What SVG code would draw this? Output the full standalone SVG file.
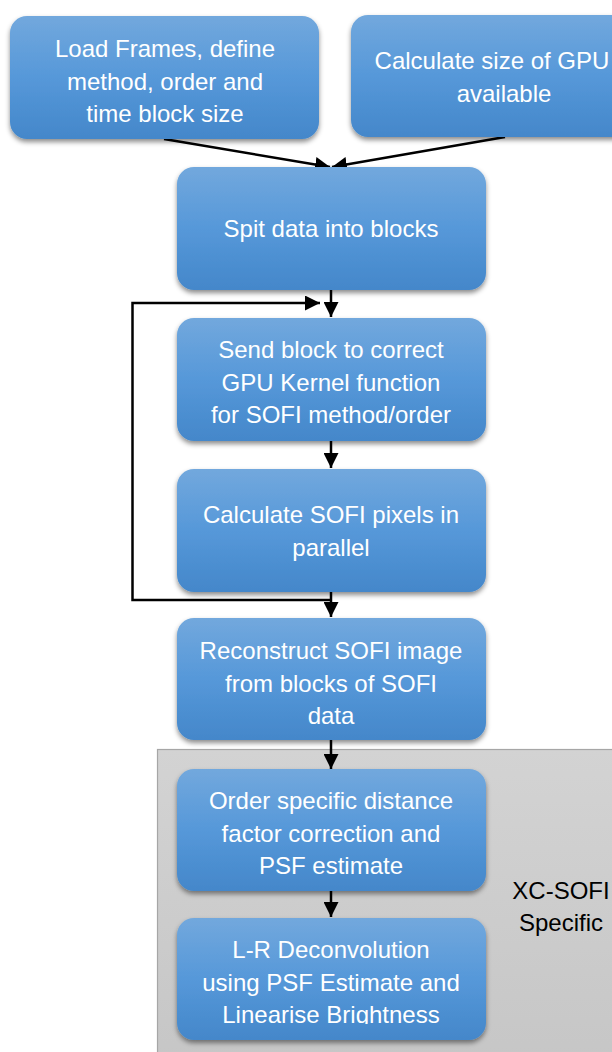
<svg xmlns="http://www.w3.org/2000/svg" width="612" height="1052" viewBox="0 0 612 1052">
<defs>
<linearGradient id="boxg" x1="0" y1="0" x2="0" y2="1">
<stop offset="0" stop-color="#72a8dd"/>
<stop offset="0.5" stop-color="#5698d9"/>
<stop offset="1" stop-color="#4487ca"/>
</linearGradient>
<linearGradient id="grayg" x1="0" y1="0" x2="0" y2="1">
<stop offset="0" stop-color="#d3d3d3"/>
<stop offset="1" stop-color="#c6c6c6"/>
</linearGradient>
<filter id="shadow" x="-10%" y="-10%" width="120%" height="130%">
<feDropShadow dx="0" dy="3" stdDeviation="2.5" flood-color="#000" flood-opacity="0.45"/>
</filter>
<marker id="arrow" markerUnits="userSpaceOnUse" markerWidth="16" markerHeight="15" refX="15" refY="7.5" orient="auto">
<path d="M0,0 L15,7.5 L0,15 z" fill="#000"/>
</marker>
<clipPath id="clip8">
<rect x="177" y="918" width="310" height="106"/>
</clipPath>
</defs>
<style>
.box{fill:url(#boxg);filter:url(#shadow);}
.t{font-family:"Liberation Sans",Arial,sans-serif;font-size:24px;fill:#ffffff;text-anchor:middle;}
.lbl{font-family:"Liberation Sans",Arial,sans-serif;font-size:24px;fill:#000000;text-anchor:middle;}
.conn{fill:none;stroke:#000;stroke-width:2.5;marker-end:url(#arrow);}
</style>
<rect width="612" height="1052" fill="#ffffff"/>

<g id="xcsofi-region">
<rect x="157.5" y="749.5" width="470" height="320" fill="url(#grayg)" stroke="#a6a6a6" stroke-width="1.2"/>
<text class="lbl" x="561" y="899">XC-SOFI</text>
<text class="lbl" x="561" y="931">Specific</text>
</g>

<g id="connectors">
<path class="conn" d="M164,139 L330,167"/>
<path class="conn" d="M505,137 L332,167"/>
<path class="conn" d="M331,290 L331,317"/>
<path class="conn" d="M331,600 L132.5,600 L132.5,303 L320,303"/>
<path class="conn" d="M331,441 L331,468"/>
<path class="conn" d="M331,592 L331,617"/>
<path class="conn" d="M331,740 L331,769"/>
<path class="conn" d="M331,891 L331,917"/>
</g>

<g id="n1">
<rect class="box" x="10" y="16" width="309" height="123" rx="17"/>
<text class="t" x="165" y="57">Load Frames, define</text>
<text class="t" x="165" y="89.5">method, order and</text>
<text class="t" x="165" y="122">time block size</text>
</g>
<g id="n2">
<rect class="box" x="351" y="15" width="309" height="122" rx="17"/>
<text class="t" x="492" y="69">Calculate size of GPU</text>
<text class="t" x="504" y="101.5">available</text>
</g>
<g id="n3">
<rect class="box" x="177" y="167" width="309" height="123" rx="17"/>
<text class="t" x="331" y="237">Spit data into blocks</text>
</g>
<g id="n4">
<rect class="box" x="177" y="318" width="309" height="123" rx="17"/>
<text class="t" x="331" y="358">Send block to correct</text>
<text class="t" x="331" y="390.5">GPU Kernel function</text>
<text class="t" x="331" y="423">for SOFI method/order</text>
</g>
<g id="n5">
<rect class="box" x="177" y="469" width="309" height="123" rx="17"/>
<text class="t" x="331" y="523">Calculate SOFI pixels in</text>
<text class="t" x="331" y="555.5">parallel</text>
</g>
<g id="n6">
<rect class="box" x="177" y="618" width="309" height="122" rx="17"/>
<text class="t" x="331" y="659">Reconstruct SOFI image</text>
<text class="t" x="331" y="691.5">from blocks of SOFI</text>
<text class="t" x="331" y="724">data</text>
</g>
<g id="n7">
<rect class="box" x="177" y="769" width="309" height="122" rx="17"/>
<text class="t" x="331" y="809">Order specific distance</text>
<text class="t" x="331" y="841.5">factor correction and</text>
<text class="t" x="331" y="874">PSF estimate</text>
</g>
<g id="n8">
<rect class="box" x="177" y="918" width="309" height="122" rx="17"/>
<g clip-path="url(#clip8)">
<text class="t" x="331" y="958">L-R Deconvolution</text>
<text class="t" x="331" y="990.5">using PSF Estimate and</text>
<text class="t" x="331" y="1023">Linearise Brightness</text>
</g>
</g>
</svg>
